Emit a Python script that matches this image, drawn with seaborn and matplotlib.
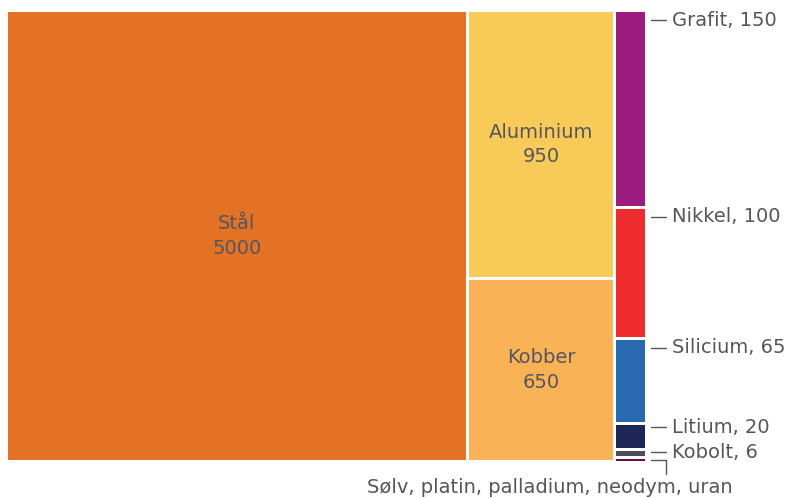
import matplotlib
matplotlib.use("Agg")
import matplotlib.pyplot as plt
from matplotlib.patches import Rectangle
import seaborn as sns

# data
names = ["Stål", "Aluminium", "Kobber", "Grafit", "Nikkel", "Silicium", "Litium", "Kobolt",
         "Sølv, platin, palladium, neodym, uran"]
values = [5000, 950, 650, 150, 100, 65, 20, 6, 3]
columns = [[0], [1, 2], [3, 4, 5, 6, 7, 8]]
colors = ["#E37224", "#F8CB58", "#F9B356", "#9B1B7E", "#EE2B2D", "#2969B0", "#1E2657",
          "#4E4C5A", "#6E0A46"]

sns.set_theme(style="white")
plt.rcParams["font.family"] = ["DejaVu Sans"]
txt = "#55555F"
fs = 14

fig = plt.figure(figsize=(7.93, 4.98), dpi=100)
ax = fig.add_axes([0, 0, 1, 1])
ax.set_xlim(0, 793)
ax.set_ylim(498, 0)
ax.axis("off")

x0, y0, W, H = 8, 12, 640, 451
gap = 3
total = sum(values)
x = x0
rects = {}
for col in columns:
    csum = sum(values[i] for i in col)
    w = csum / total * W
    y = y0
    for i in col:
        h = values[i] / csum * H
        ax.add_patch(Rectangle((x, y), w - gap, max(h - gap, 1.5), facecolor=colors[i],
                               edgecolor="none"))
        rects[i] = (x, y, w - gap, h - gap)
        y += h
    x += w

# inside labels
for i in [0, 1, 2]:
    rx, ry, rw, rh = rects[i]
    ax.text(rx + rw / 2, ry + rh / 2, f"{names[i]}\n{values[i]}", ha="center", va="center",
            fontsize=fs, color=txt, linespacing=1.35)

# bracket for the smallest group
rx, ry, rw, rh = rects[8]
sy = ry + 1
ax.plot([rx + rw + 6, rx + rw + 21, rx + rw + 21], [sy, sy, sy + 14], color=txt, lw=1)
ax.text(550, 487, names[8], ha="center", va="center", fontsize=fs, color=txt)

# outside labels, pushed up so they don't collide
label_y = {}
limit = sy - 8
for i in [7, 6, 5, 4, 3]:
    rx, ry, rw, rh = rects[i]
    ly = min(ry + min(8, rh / 2), limit)
    label_y[i] = ly
    limit = ly - 25
for i in [3, 4, 5, 6, 7]:
    rx, ry, rw, rh = rects[i]
    ly = label_y[i]
    ax.plot([rx + rw + 6, rx + rw + 21], [ly, ly], color=txt, lw=1)
    ax.text(rx + rw + 27, ly, f"{names[i]}, {values[i]}", ha="left", va="center",
            fontsize=fs, color=txt)

fig.savefig("out.png", dpi=100)
